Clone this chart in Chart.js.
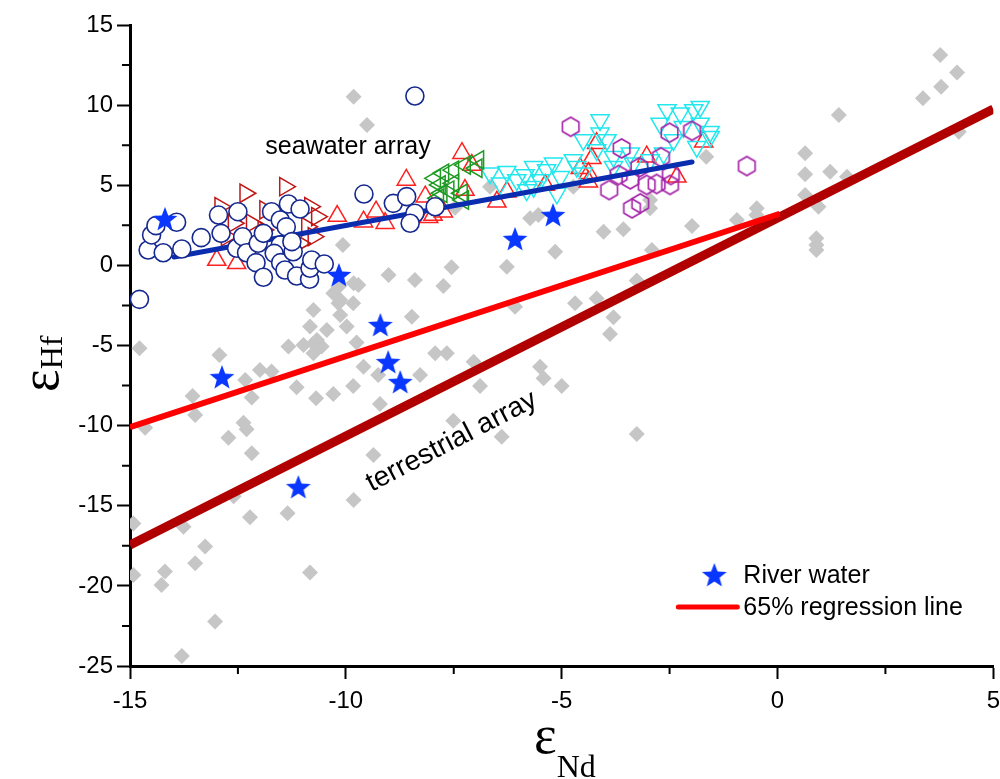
<!DOCTYPE html>
<html>
<head>
<meta charset="utf-8">
<script src="https://cdn.jsdelivr.net/npm/chart.js@4.4.1/dist/chart.umd.min.js"></script>
<style>
  html, body { margin: 0; background: #fff; overflow: hidden; }
  #wrap { width: 1000px; height: 779px; overflow: hidden; }
</style>
</head>
<body>
<div id="wrap"><canvas id="chart" width="1008" height="779"></canvas></div>
<script>
// axis ranges and ticks
const xRange = [-15, 5];
const yRange = [-25, 15];
const tickStep = 5;

// river water (stars)
const riverWater = [[-14.19, 2.9], [-10.16, -0.6], [-9.2, -3.72], [-9.02, -6.03], [-8.74, -7.28],
  [-12.87, -6.97], [-11.1, -13.83], [-6.08, 1.65], [-5.2, 3.14]];

// seawater, open circles
const circles = [[-14.78, -2.12], [-14.58, 0.96], [-14.5, 1.9], [-14.4, 2.48], [-13.92, 2.69], [-14.23, 0.79],
  [-13.8, 1.02], [-13.35, 1.73], [-12.95, 3.14], [-12.89, 2.0], [-12.5, 3.35], [-12.53, 1.07], [-12.39, 1.79],
  [-12.3, 0.79], [-12.08, 0.17], [-11.91, -0.74], [-12.03, 1.38], [-11.91, 2.0], [-11.72, 3.35], [-11.52, 2.83],
  [-11.38, 2.4], [-11.33, 3.83], [-11.06, 3.52], [-11.52, 1.27], [-11.66, 0.75], [-11.51, 0.17], [-11.41, -0.29],
  [-11.22, 0.85], [-11.14, -0.66], [-10.84, -0.87], [-10.83, -0.18], [-10.79, 0.34], [-10.5, 0.09], [-11.25, 1.48],
  [-8.4, 10.57], [-9.58, 4.45], [-8.9, 3.87], [-8.59, 4.29], [-8.4, 3.25], [-8.51, 2.63], [-7.93, 3.66]];

// red up triangles
const upTriangles = [[-12.99, 0.33], [-12.53, 0.13], [-10.2, 3.08], [-9.59, 2.73], [-9.3, 3.35], [-9.09, 2.63],
  [-8.6, 5.33], [-8.16, 4.29], [-8.08, 3.0], [-7.31, 7.0], [-7.08, 6.26], [-7.74, 3.35], [-7.98, 3.14],
  [-6.5, 3.97], [-6.27, 4.6], [-5.38, 5.02], [-4.19, 7.62], [-4.3, 6.68], [-4.57, 6.06], [-4.38, 5.75],
  [-4.38, 5.22], [-3.03, 6.78], [-2.33, 5.53], [-1.71, 7.72], [-7.24, 4.7]];

// dark red right triangles
const rightTriangles = [[-12.33, 4.5], [-11.41, 4.91], [-12.6, 2.63], [-12.18, 2.63], [-11.87, 3.46],
  [-11.91, 2.21], [-10.83, 3.66], [-10.67, 3.04], [-10.9, 2.41], [-10.75, 1.79], [-12.76, 1.79],
  [-11.06, 1.38], [-12.91, 3.66]];

// green left triangles
const leftTriangles = [[-6.93, 6.58], [-6.97, 6.06], [-7.24, 6.26], [-7.51, 5.95], [-7.74, 5.75], [-7.93, 5.43],
  [-7.51, 5.12], [-7.82, 5.02], [-7.31, 4.5], [-7.62, 4.7], [-7.78, 4.5], [-7.28, 4.08], [-7.86, 4.19]];

// cyan down triangles
const downTriangles = [[-6.66, 5.75], [-6.27, 5.85], [-6.04, 5.33], [-5.85, 5.64], [-5.65, 4.91], [-5.35, 5.95],
  [-5.03, 5.53], [-5.11, 4.5], [-4.65, 6.16], [-4.5, 5.75], [-4.11, 9.07], [-4.11, 8.24], [-4.5, 7.83],
  [-4.19, 7.2], [-3.8, 6.78], [-3.8, 6.16], [-3.41, 6.99], [-3.34, 6.37], [-2.95, 6.58], [-2.64, 6.99],
  [-2.56, 9.7], [-2.25, 9.49], [-1.94, 9.7], [-1.79, 9.9], [-2.18, 8.65], [-1.79, 8.86], [-1.56, 8.03],
  [-1.87, 7.41], [-2.41, 7.83], [-2.72, 8.86], [-5.65, 6.16], [-5.5, 5.33], [-6.42, 5.12], [-5.81, 4.7],
  [-5.19, 6.37], [-4.73, 6.58], [-3.95, 7.83], [-1.56, 8.34]];

// purple hexagons
const hexagons = [[-4.79, 8.65], [-3.61, 7.3], [-2.5, 8.28], [-1.98, 8.4], [-2.7, 6.75], [-3.2, 6.12],
  [-3.68, 5.64], [-3.9, 4.7], [-3.41, 5.37], [-3.03, 5.02], [-2.8, 5.08], [-2.49, 5.02], [-2.47, 5.64],
  [-3.18, 3.87], [-3.37, 3.56], [-0.71, 6.2]];

// grey diamonds (terrestrial samples)
const diamonds = [[-14.78, -5.17], [-12.93, -5.59], [-13.55, -8.15], [-13.49, -9.34], [-14.65, -10.13],
  [-12.72, -10.75], [-12.37, -9.82], [-12.3, -10.23], [-12.18, -11.73], [-9.36, -11.83], [-9.82, -14.64],
  [-11.35, -15.47], [-12.22, -15.72], [-14.92, -16.1], [-13.76, -16.31], [-13.26, -17.55], [-13.49, -18.59],
  [-14.92, -19.32], [-14.19, -19.11], [-14.27, -19.94], [-13.03, -22.23], [-13.8, -24.37], [-10.83, -19.17],
  [-11.33, -5.07], [-10.98, -4.97], [-10.83, -3.82], [-10.75, -2.78], [-10.44, -4.03], [-10.75, -5.49],
  [-10.56, -5.07], [-9.98, -3.82], [-10.13, -3.1], [-9.83, -2.37], [-9.75, -4.82], [-9.59, -6.32],
  [-10.29, -8.03], [-10.69, -8.29], [-11.14, -7.61], [-11.99, -6.53], [-11.72, -6.63], [-12.33, -7.15],
  [-12.18, -8.24], [-9.83, -7.53], [-9.21, -8.65], [-8.47, -3.2], [-8.28, -6.84], [-7.93, -5.49],
  [-7.66, -5.49], [-10.67, -4.66], [-12.6, -14.4], [-9.01, -0.6], [-8.4, -0.91], [-7.55, -0.12],
  [-7.74, -1.29], [-6.27, -0.08], [-6.08, -2.58], [-4.69, -2.37], [-4.19, -2.06], [-3.26, -0.95],
  [-3.8, -3.24], [-3.88, -4.28], [-7.04, -6.01], [-6.89, -7.53], [-5.5, -6.32], [-5.42, -7.05],
  [-5.0, -7.53], [-9.25, -6.84], [-7.51, -9.69], [-6.39, -10.69], [-3.26, -10.52], [-10.17, -2.37],
  [-9.71, -1.22], [-10.29, -1.74], [-10.75, -4.87], [-9.82, 10.53], [-9.51, 8.76], [-10.07, 1.27],
  [-10.17, -1.33], [-9.82, -1.12], [-10.13, -2.16], [-5.73, 2.94], [-5.54, 3.14], [-4.03, 2.1],
  [-3.57, 2.25], [-1.98, 2.46], [-2.95, 3.56], [-2.91, 0.96], [-5.15, 0.85], [-2.95, 4.08], [-6.66, 4.91],
  [-4.73, 4.9], [-7.47, 3.6], [3.77, 13.13], [4.16, 12.03], [3.79, 11.15], [3.37, 10.43], [1.42, 9.38],
  [0.64, 6.99], [0.64, 5.68], [1.22, 5.85], [1.61, 5.53], [0.64, 4.39], [0.95, 3.66], [-0.48, 3.56],
  [-0.49, 3.14], [-0.94, 2.83], [0.9, 1.69], [0.9, 1.27], [0.9, 0.96], [-1.65, 6.78], [4.2, 8.34]];

// lines (end points)
const seawaterLine = [[-13.98, 0.52], [-1.98, 6.45]];
const regressionLine = [[-15, -10.1], [0.05, 3.22]];
const terrestrialLine = [[-15, -17.45], [5, 9.75]];

const legendLabels = ['River water', '65% regression line'];

function pts(arr) {
  return arr.map(p => ({ x: p[0], y: p[1] }));
}

function makeStar(r, color) {
  const c = document.createElement('canvas');
  c.width = c.height = Math.ceil(r * 2 + 2);
  const g = c.getContext('2d');
  const cx = c.width / 2, cy = c.height / 2 + 1;
  g.beginPath();
  for (let i = 0; i < 10; i++) {
    const rr = i % 2 === 0 ? r : r * 0.42;
    const a = -Math.PI / 2 + i * Math.PI / 5;
    g.lineTo(cx + rr * Math.cos(a), cy + rr * Math.sin(a));
  }
  g.closePath();
  g.fillStyle = color;
  g.fill();
  return c;
}

function makeHex(r, color) {
  const c = document.createElement('canvas');
  c.width = c.height = Math.ceil(r * 2 + 4);
  const g = c.getContext('2d');
  const cx = c.width / 2, cy = c.height / 2;
  g.beginPath();
  for (let i = 0; i < 6; i++) {
    const a = -Math.PI / 2 + i * Math.PI / 3;
    g.lineTo(cx + r * Math.cos(a), cy + r * Math.sin(a));
  }
  g.closePath();
  g.strokeStyle = color;
  g.lineWidth = 1.6;
  g.stroke();
  return c;
}

const starImg = makeStar(13, '#0a37ff');
const hexImg = makeHex(9.5, '#a21fa6');

const SANS = '"Liberation Sans", Arial, sans-serif';
const SERIF = '"Liberation Serif", "Times New Roman", serif';

// minor ticks, axis titles, annotations and legend
const extras = {
  id: 'extras',
  afterDraw(chart) {
    const { ctx, chartArea: a, scales: { x, y } } = chart;
    ctx.save();
    ctx.strokeStyle = '#000';
    ctx.lineWidth = 2;
    ctx.beginPath();
    for (let v = xRange[0] + tickStep / 2; v < xRange[1]; v += tickStep) {
      const px = x.getPixelForValue(v);
      ctx.moveTo(px, a.bottom);
      ctx.lineTo(px, a.bottom + 8);
    }
    for (let v = yRange[0] + tickStep / 2; v < yRange[1]; v += tickStep) {
      const py = y.getPixelForValue(v);
      ctx.moveTo(a.left - 8, py);
      ctx.lineTo(a.left, py);
    }
    ctx.stroke();

    // axis titles
    ctx.fillStyle = '#000';
    ctx.textBaseline = 'alphabetic';
    ctx.textAlign = 'left';
    ctx.font = '54px ' + SERIF;
    const epsW = ctx.measureText('ε').width;
    const xStart = 534;
    ctx.fillText('ε', xStart, 753);
    ctx.font = '32px ' + SERIF;
    ctx.fillText('Nd', xStart + epsW, 777);

    ctx.save();
    ctx.translate(58, 392);
    ctx.rotate(-Math.PI / 2);
    ctx.font = '54px ' + SERIF;
    ctx.fillText('ε', 0, 0);
    ctx.font = '32px ' + SERIF;
    ctx.fillText('Hf', epsW, 4);
    ctx.restore();

    // annotations
    ctx.font = '25px ' + SANS;
    ctx.textAlign = 'center';
    ctx.textBaseline = 'middle';
    ctx.fillText('seawater array', x.getPixelForValue(-9.95), y.getPixelForValue(7.4));
    ctx.save();
    ctx.translate(x.getPixelForValue(-7.55), y.getPixelForValue(-11.0));
    ctx.rotate(-27.5 * Math.PI / 180);
    ctx.font = '28px ' + SANS;
    ctx.fillText('terrestrial array', 0, 0);
    ctx.restore();

    // legend
    const lx = a.right - 279, ly = a.bottom - 91;
    ctx.drawImage(starImg, lx - starImg.width / 2, ly - starImg.height / 2);
    ctx.strokeStyle = '#ff0000';
    ctx.lineWidth = 5;
    ctx.lineCap = 'round';
    ctx.beginPath();
    ctx.moveTo(a.right - 315, ly + 32);
    ctx.lineTo(a.right - 256, ly + 32);
    ctx.stroke();
    ctx.font = '25px ' + SANS;
    ctx.textAlign = 'left';
    ctx.fillStyle = '#000';
    ctx.fillText(legendLabels[0], a.right - 250, ly + 1);
    ctx.fillText(legendLabels[1], a.right - 250, ly + 33);
    ctx.restore();
  }
};

const tri = (data, color, rot) => ({
  data: pts(data), pointStyle: 'triangle', rotation: rot, pointRadius: 10.5,
  borderColor: color, backgroundColor: 'rgba(0,0,0,0)', borderWidth: 1.5
});

new Chart(document.getElementById('chart'), {
  type: 'scatter',
  data: {
    datasets: [
      { data: pts(riverWater), pointStyle: starImg, pointRadius: 13 },
      { data: pts(circles), pointStyle: 'circle', pointRadius: 9, borderColor: '#16298f',
        backgroundColor: '#ffffff', borderWidth: 1.6 },
      { data: pts(seawaterLine), showLine: true, pointRadius: 0, borderColor: '#0a2db0', borderWidth: 5,
        borderCapStyle: 'round' },
      tri(leftTriangles, '#1e9a22', 270),
      { data: pts(hexagons), pointStyle: hexImg, pointRadius: 10 },
      tri(downTriangles, '#22e8ee', 180),
      tri(upTriangles, '#ff2020', 0),
      tri(rightTriangles, '#c01616', 90),
      { data: pts(regressionLine), showLine: true, pointRadius: 0, borderColor: '#ff0000', borderWidth: 6,
        borderCapStyle: 'butt' },
      { data: pts(terrestrialLine), showLine: true, pointRadius: 0, borderColor: '#b10000', borderWidth: 9,
        borderCapStyle: 'butt' },
      { data: pts(diamonds), pointStyle: 'rectRot', pointRadius: 8, borderWidth: 0,
        backgroundColor: '#c6c6c6' }
    ]
  },
  options: {
    responsive: false,
    animation: false,
    events: [],
    layout: { padding: { left: 0, top: 25, right: 0, bottom: 0 } },
    plugins: { legend: { display: false }, tooltip: { enabled: false } },
    scales: {
      x: {
        type: 'linear', min: xRange[0], max: xRange[1],
        afterFit: s => { s.height = 113; },
        ticks: { stepSize: tickStep, color: '#000', padding: 8, font: { family: SANS, size: 24 } },
        grid: { drawOnChartArea: false, tickLength: 13, tickWidth: 2, tickColor: '#000' },
        border: { display: true, color: '#000', width: 3 }
      },
      y: {
        type: 'linear', min: yRange[0], max: yRange[1],
        afterFit: s => { s.width = 130; },
        ticks: { stepSize: tickStep, color: '#000', padding: 4, font: { family: SANS, size: 24 } },
        grid: { drawOnChartArea: false, tickLength: 13, tickWidth: 2, tickColor: '#000' },
        border: { display: true, color: '#000', width: 3 }
      }
    }
  },
  plugins: [extras]
});
</script>
</body>
</html>
